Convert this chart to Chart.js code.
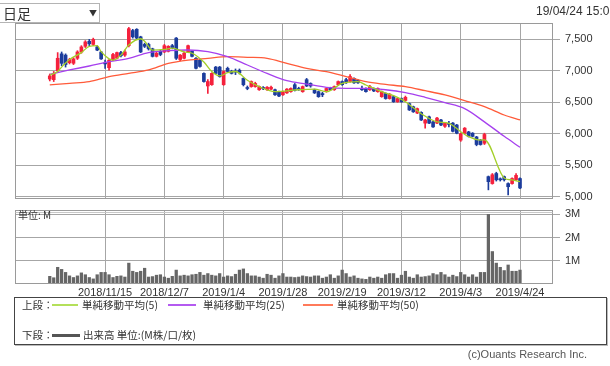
<!DOCTYPE html>
<html>
<head>
<meta charset="utf-8">
<script src="https://cdn.jsdelivr.net/npm/chart.js@4.4.1/dist/chart.umd.min.js"></script>
<style>
  html, body { margin: 0; padding: 0; background: #fff; overflow: hidden; }
  body { width: 610px; height: 366px; position: relative; color: #333;
         font-family: "Noto Sans CJK JP", "Liberation Sans", sans-serif; }
  canvas { position: absolute; left: 0; top: 0; }
  .abs { position: absolute; white-space: nowrap; }
  #period { left: 0; top: 3px; width: 99px; height: 18px; border: 1px solid #b4b4b4; border-left: none;
            font-size: 14px; line-height: 18px; }
  #period .arrow { position: absolute; left: 89px; top: 0; font-size: 8px; }
  #stamp { left: 536px; top: 4px; font: 12px "Liberation Sans", sans-serif; color: #333; }
  #unit { left: 18px; top: 209px; font-size: 10px; line-height: 12px; }
  #legend { left: 14px; top: 297px; width: 591px; height: 46px; border: 1px solid #444;
            box-shadow: 1px 1px 0 #bbb; }
  .lg { font-size: 10.5px; line-height: 14px; }
  .mark { position: absolute; height: 2px; }
  #copy { right: 23px; top: 348px; font: 11px "Liberation Sans", sans-serif; color: #555; }
</style>
</head>
<body>
<canvas id="price" width="610" height="366"></canvas>
<canvas id="volume" width="610" height="366"></canvas>

<div id="period" class="abs"><span style="margin-left:3px">日足</span><span class="arrow">▼</span></div>
<div id="stamp" class="abs">19/04/24 15:00</div>
<div id="unit" class="abs">単位: M</div>

<div id="legend" class="abs"></div>
<div class="abs lg" style="left:22px;top:298px">上段：</div>
<div class="mark" style="left:52px;top:304px;width:26px;background:#b4e05a"></div>
<div class="abs lg" style="left:82px;top:298px">単純移動平均(5)</div>
<div class="mark" style="left:168px;top:304px;width:28px;background:#b45af0"></div>
<div class="abs lg" style="left:203px;top:298px">単純移動平均(25)</div>
<div class="mark" style="left:303px;top:304px;width:30px;background:#ff7a5a"></div>
<div class="abs lg" style="left:337px;top:298px">単純移動平均(50)</div>
<div class="abs lg" style="left:22px;top:328px">下段：</div>
<div class="mark" style="left:52px;top:334px;width:28px;height:3px;background:#555"></div>
<div class="abs lg" style="left:83px;top:328px">出来高 単位:(M株/口/枚)</div>

<div id="copy" class="abs">(c)Ouants Research Inc.</div>

<script>
const dates = [
  '2018/10/26', '2018/10/29', '2018/10/30', '2018/10/31', '2018/11/1', '2018/11/2', '2018/11/5', '2018/11/6', '2018/11/7', '2018/11/8',
  '2018/11/9', '2018/11/12', '2018/11/13', '2018/11/14', '2018/11/15', '2018/11/16', '2018/11/19', '2018/11/20', '2018/11/21', '2018/11/22',
  '2018/11/26', '2018/11/27', '2018/11/28', '2018/11/29', '2018/11/30', '2018/12/3', '2018/12/4', '2018/12/5', '2018/12/6', '2018/12/7',
  '2018/12/10', '2018/12/11', '2018/12/12', '2018/12/13', '2018/12/14', '2018/12/17', '2018/12/18', '2018/12/19', '2018/12/20', '2018/12/21',
  '2018/12/25', '2018/12/26', '2018/12/27', '2018/12/28', '2019/1/4', '2019/1/7', '2019/1/8', '2019/1/9', '2019/1/10', '2019/1/11',
  '2019/1/15', '2019/1/16', '2019/1/17', '2019/1/18', '2019/1/21', '2019/1/22', '2019/1/23', '2019/1/24', '2019/1/25', '2019/1/28',
  '2019/1/29', '2019/1/30', '2019/1/31', '2019/2/1', '2019/2/4', '2019/2/5', '2019/2/6', '2019/2/7', '2019/2/8', '2019/2/12',
  '2019/2/13', '2019/2/14', '2019/2/15', '2019/2/18', '2019/2/19', '2019/2/20', '2019/2/21', '2019/2/22', '2019/2/25', '2019/2/26',
  '2019/2/27', '2019/2/28', '2019/3/1', '2019/3/4', '2019/3/5', '2019/3/6', '2019/3/7', '2019/3/8', '2019/3/11', '2019/3/12',
  '2019/3/13', '2019/3/14', '2019/3/15', '2019/3/18', '2019/3/19', '2019/3/20', '2019/3/22', '2019/3/25', '2019/3/26', '2019/3/27',
  '2019/3/28', '2019/3/29', '2019/4/1', '2019/4/2', '2019/4/3', '2019/4/4', '2019/4/5', '2019/4/8', '2019/4/9', '2019/4/10',
  '2019/4/11', '2019/4/12', '2019/4/15', '2019/4/16', '2019/4/17', '2019/4/18', '2019/4/19', '2019/4/22', '2019/4/23', '2019/4/24'
];

const opens = [
  6870, 6860, 7000, 7270, 7250, 7130, 7120, 7200, 7300, 7390,
  7470, 7420, 7380, 7300, 7120, 7050, 7180, 7200, 7290, 7250,
  7400, 7640, 7660, 7540, 7420, 7420, 7350, 7230, 7310, 7300,
  7310, 7400, 7520, 7180, 7200, 7300, 7310, 7200, 7170, 6960,
  6760, 6780, 7060, 7060, 6780, 7040, 6990, 6990, 7010, 6880,
  6730, 6750, 6750, 6700, 6730, 6700, 6710, 6700, 6670, 6620,
  6650, 6670, 6780, 6720, 6670, 6860, 6800, 6700, 6670, 6640,
  6670, 6730, 6700, 6780, 6830, 6860, 6830, 6880, 6850, 6720,
  6720, 6700, 6720, 6670, 6590, 6640, 6560, 6590, 6510, 6560,
  6530, 6480, 6430, 6330, 6340, 6170, 6270, 6190, 6170, 6220,
  6120, 6160, 6170, 6140, 5900, 6010, 6030, 6010, 5950, 5900,
  5850, 5320, 5210, 5370, 5280, 5320, 5210, 5210, 5270, 5290
];
const highs = [
  6950, 6990, 7290, 7300, 7270, 7200, 7210, 7320, 7400, 7480,
  7500, 7520, 7400, 7310, 7170, 7180, 7280, 7300, 7310, 7330,
  7690, 7660, 7670, 7550, 7440, 7440, 7360, 7300, 7330, 7420,
  7400, 7420, 7530, 7260, 7300, 7410, 7320, 7210, 7180, 6970,
  6860, 6970, 7070, 7070, 7000, 7060, 7010, 7030, 7030, 6890,
  6760, 6840, 6820, 6760, 6750, 6750, 6760, 6710, 6680, 6680,
  6720, 6730, 6800, 6740, 6760, 6880, 6810, 6710, 6680, 6660,
  6730, 6740, 6760, 6840, 6840, 6880, 6940, 6890, 6860, 6760,
  6730, 6770, 6730, 6730, 6680, 6650, 6640, 6600, 6570, 6570,
  6600, 6490, 6440, 6410, 6350, 6230, 6280, 6200, 6260, 6230,
  6180, 6200, 6180, 6150, 6010, 6100, 6040, 6020, 5960, 5910,
  6010, 5330, 5370, 5390, 5300, 5330, 5220, 5300, 5370, 5300
];
const lows = [
  6840, 6830, 6990, 7080, 7060, 7110, 7100, 7180, 7280, 7370,
  7400, 7400, 7320, 7180, 7040, 7010, 7160, 7190, 7220, 7230,
  7380, 7520, 7500, 7290, 7370, 7330, 7220, 7220, 7240, 7290,
  7300, 7350, 7180, 7160, 7190, 7290, 7220, 7030, 7060, 6820,
  6640, 6770, 6950, 6900, 6770, 6980, 6950, 6940, 6950, 6760,
  6700, 6740, 6740, 6690, 6700, 6690, 6700, 6610, 6590, 6610,
  6640, 6660, 6680, 6690, 6660, 6750, 6740, 6640, 6580, 6590,
  6660, 6690, 6690, 6770, 6770, 6800, 6820, 6800, 6800, 6690,
  6660, 6690, 6670, 6660, 6580, 6550, 6550, 6500, 6500, 6500,
  6520, 6370, 6340, 6320, 6210, 6090, 6160, 6100, 6160, 6130,
  6100, 6110, 6030, 6000, 5880, 6000, 5950, 5950, 5810, 5820,
  5830, 5110, 5200, 5250, 5250, 5250, 5030, 5200, 5260, 5130
];
const closes = [
  6920, 6960, 7200, 7120, 7100, 7180, 7190, 7300, 7380, 7460,
  7430, 7500, 7330, 7190, 7110, 7170, 7260, 7290, 7240, 7300,
  7670, 7540, 7520, 7300, 7390, 7350, 7230, 7280, 7260, 7400,
  7390, 7370, 7200, 7250, 7280, 7400, 7230, 7040, 7070, 6830,
  6830, 6960, 6960, 6910, 6990, 6990, 6960, 6980, 6970, 6780,
  6720, 6830, 6800, 6750, 6720, 6740, 6740, 6620, 6600, 6670,
  6710, 6720, 6690, 6700, 6750, 6760, 6760, 6650, 6590, 6620,
  6720, 6700, 6750, 6830, 6780, 6810, 6910, 6810, 6810, 6700,
  6670, 6750, 6680, 6720, 6670, 6560, 6630, 6510, 6560, 6510,
  6580, 6380, 6350, 6400, 6220, 6220, 6170, 6110, 6250, 6140,
  6170, 6150, 6040, 6010, 6000, 6090, 5960, 5960, 5830, 5830,
  5990, 5240, 5350, 5270, 5270, 5270, 5160, 5290, 5340, 5140
];
// volume in millions
const volumes = [
  0.33, 0.27, 0.72, 0.63, 0.5, 0.35, 0.28, 0.35, 0.48, 0.4,
  0.28, 0.22, 0.4, 0.5, 0.5, 0.4, 0.28, 0.33, 0.35, 0.3,
  0.9, 0.55, 0.5, 0.55, 0.68, 0.3, 0.32, 0.38, 0.4, 0.3,
  0.25, 0.33, 0.6, 0.35, 0.38, 0.35, 0.4, 0.42, 0.5, 0.38,
  0.45, 0.38, 0.35, 0.45, 0.3, 0.35, 0.32, 0.42, 0.6, 0.65,
  0.45, 0.35, 0.35, 0.3, 0.25, 0.42, 0.38, 0.25, 0.35, 0.45,
  0.3, 0.3, 0.28, 0.3, 0.35, 0.32, 0.3, 0.35, 0.35, 0.25,
  0.3, 0.4, 0.25, 0.35, 0.6, 0.45, 0.3, 0.35, 0.25, 0.22,
  0.2, 0.3, 0.25, 0.3, 0.25, 0.4, 0.45, 0.45, 0.25, 0.38,
  0.55, 0.3, 0.25, 0.4, 0.3, 0.32, 0.35, 0.45, 0.4, 0.5,
  0.4, 0.3, 0.38, 0.32, 0.5, 0.4, 0.3, 0.4, 0.3, 0.5,
  0.5, 3.0, 1.4, 0.9, 0.72, 0.58, 0.82, 0.55, 0.55, 0.6
];

// moving averages (day index -> value)
const ma5Days = [0, 2, 3, 5, 8, 10, 12, 13, 15, 16, 18, 20, 23, 24, 26, 29, 31, 34, 36, 39,
  41, 43, 45, 47, 50, 53, 57, 63, 67, 70, 74, 78, 80, 84, 88, 90, 94, 98, 101, 104,
  106, 109, 110, 115, 117, 119];
const ma5 = [6930, 6990, 7060, 7180, 7290, 7390, 7400, 7305, 7190, 7170, 7250, 7410, 7510, 7470, 7330, 7340, 7360, 7300, 7280, 7140,
  6990, 6920, 6970, 6990, 6850, 6750, 6670, 6700, 6710, 6670, 6800, 6830, 6775, 6670, 6580, 6510, 6320, 6190, 6167, 6034,
  5955, 5900, 5905, 5300, 5267, 5240];
const maDays = [0, 5, 10, 15, 20, 25, 30, 35, 40, 45, 50, 55, 60, 65, 70, 75, 80, 85, 90, 95, 100, 105, 110, 115, 119];
const ma25 = [6945, 7014, 7077, 7146, 7199, 7289, 7320, 7331, 7305, 7225, 7093, 6960, 6844, 6791, 6738, 6722, 6722, 6700, 6654, 6580, 6495, 6400, 6190, 5960, 5786];
const ma50 = [6776, 6802, 6828, 6908, 6961, 7014, 7119, 7172, 7199, 7225, 7215, 7199, 7120, 7040, 6987, 6908, 6828, 6785, 6749, 6685, 6617, 6527, 6431, 6299, 6220];

const tickDays = [14, 29, 44, 59, 74, 89, 104, 119];
const priceTicks = [5000, 5500, 6000, 6500, 7000, 7500];
const volumeTicks = [1, 2, 3];

const UP = '#f5213c';
const DOWN = '#1c3c9c';
const GRID = '#a6a6a6';
const X_MIN = -8.8;
const X_MAX = 127.35;
const tickFont = { family: "'Liberation Sans', sans-serif", size: 11 };

const candleColors = opens.map((o, i) => closes[i] >= o ? UP : DOWN);

function frame(extraTop) {
  return {
    id: 'frame',
    afterDraw(chart) {
      const { ctx, chartArea: a } = chart;
      ctx.save();
      ctx.strokeStyle = '#9a9a9a';
      ctx.lineWidth = 1;
      const l = Math.round(a.left) + 0.5, t = Math.round(a.top) + 0.5;
      const r = Math.round(a.right) - 0.5, b = Math.round(a.bottom) - 0.5;
      ctx.strokeRect(l, t, r - l, b - t);
      if (extraTop) {
        ctx.strokeStyle = '#c8c8c8';
        ctx.beginPath();
        ctx.moveTo(l, t + 2);
        ctx.lineTo(r, t + 2);
        ctx.stroke();
      }
      ctx.restore();
    }
  };
}

const xScale = (showLabels) => ({
  type: 'linear',
  min: X_MIN,
  max: X_MAX,
  offset: false,
  afterBuildTicks: (s) => { s.ticks = tickDays.map(v => ({ value: v })); },
  afterFit: (s) => { s.height = showLabels ? 20 : 0; },
  ticks: {
    display: showLabels,
    autoSkip: false,
    maxRotation: 0,
    padding: 2,
    color: '#333',
    font: tickFont,
    callback: (v) => dates[v]
  },
  grid: { color: GRID, drawTicks: false, offset: false },
  border: { display: false }
});

const maLine = (label, days, vals, color) => ({
  type: 'line',
  label: label,
  data: days.map((d, k) => ({ x: d, y: vals[k] })),
  borderColor: color,
  borderWidth: 1.3,
  pointRadius: 0,
  cubicInterpolationMode: 'monotone',
  order: 0
});

new Chart(document.getElementById('price'), {
  type: 'bar',
  data: {
    datasets: [
      maLine('単純移動平均(5)', ma5Days, ma5, '#a3cf28'),
      maLine('単純移動平均(25)', maDays, ma25, '#a640ee'),
      maLine('単純移動平均(50)', maDays, ma50, '#ff5b3a'),
      {
        label: 'wick',
        data: dates.map((d, i) => ({ x: i, y: [lows[i], highs[i]] })),
        backgroundColor: candleColors,
        barThickness: 1,
        grouped: false,
        order: 2
      },
      {
        label: 'body',
        data: dates.map((d, i) => ({ x: i, y: [opens[i], closes[i]] })),
        backgroundColor: candleColors,
        barThickness: 3,
        minBarLength: 1,
        grouped: false,
        order: 1
      }
    ]
  },
  options: {
    responsive: false,
    animation: false,
    layout: { padding: { left: 15, top: 23, right: 0, bottom: 167 } },
    plugins: { legend: { display: false }, tooltip: { enabled: false } },
    scales: {
      x: xScale(false),
      y: {
        position: 'right',
        min: 4965,
        max: 7760,
        afterBuildTicks: (s) => { s.ticks = priceTicks.map(v => ({ value: v })); },
        afterFit: (s) => { s.width = 57; },
        ticks: {
          color: '#333',
          padding: 5,
          font: tickFont,
          callback: (v) => v.toLocaleString('en-US')
        },
        grid: { color: GRID, tickLength: 7, tickColor: GRID },
        border: { display: false }
      }
    }
  },
  plugins: [frame(false)]
});

new Chart(document.getElementById('volume'), {
  type: 'bar',
  data: {
    datasets: [{
      label: '出来高',
      data: dates.map((d, i) => ({ x: i, y: volumes[i] })),
      backgroundColor: '#666',
      barThickness: 2.6
    }]
  },
  options: {
    responsive: false,
    animation: false,
    layout: { padding: { left: 15, top: 210, right: 0, bottom: 62 } },
    plugins: { legend: { display: false }, tooltip: { enabled: false } },
    scales: {
      x: xScale(true),
      y: {
        position: 'right',
        min: 0,
        max: 3.19,
        afterBuildTicks: (s) => { s.ticks = volumeTicks.map(v => ({ value: v })); },
        afterFit: (s) => { s.width = 57; },
        ticks: {
          color: '#333',
          padding: 5,
          font: tickFont,
          callback: (v) => v + 'M'
        },
        grid: { color: GRID, tickLength: 7, tickColor: GRID },
        border: { display: false }
      }
    }
  },
  plugins: [frame(true)]
});
</script>
</body>
</html>
